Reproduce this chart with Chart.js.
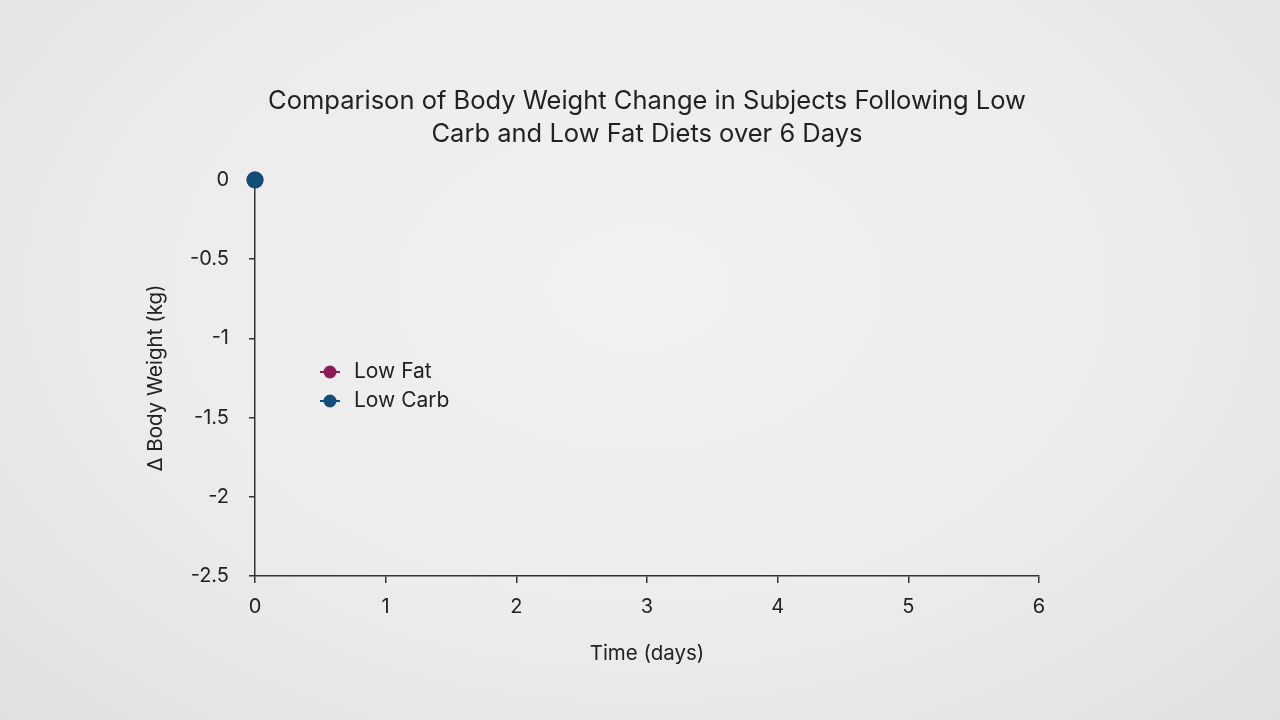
<!DOCTYPE html>
<html>
<head>
<meta charset="utf-8">
<script src="https://cdn.jsdelivr.net/npm/chart.js@4.4.0/dist/chart.umd.min.js"></script>
<style>
  html, body { margin: 0; padding: 0; }
  body {
    width: 1280px; height: 720px; overflow: hidden;
    background: radial-gradient(ellipse at 50% 40%, #f1f1f1 0%, #ececec 55%, #e0e0e0 100%);
  }
  #wrap { position: absolute; left: 0; top: 0; width: 1280px; height: 720px; }
</style>
</head>
<body>
<div id="wrap"><canvas id="myChart" width="1280" height="720"></canvas></div>
<script>
var seriesNames = ['Low Fat', 'Low Carb'];
var seriesColors = ['#8a1a58', '#124e78'];
var days = [0];
var lowFat = [0];
var lowCarb = [0];
var yTicks = [0, -0.5, -1, -1.5, -2, -2.5];
var xTicks = [0, 1, 2, 3, 4, 5, 6];

var fontFamily = 'Inter, "Open Sans", sans-serif';
var textColor = '#222';

function toPoints(xs, ys) {
    return xs.map(function(x, i) { return { x: x, y: ys[i] }; });
}

// legend with a short line through the marker, placed inside the plot
var lineLegend = {
    id: 'lineLegend',
    afterDraw: function(chart) {
        var ctx = chart.ctx;
        var a = chart.chartArea;
        var x0 = a.left + 65;
        var y0 = a.top + 192;
        ctx.save();
        ctx.font = '21px ' + fontFamily;
        ctx.textBaseline = 'middle';
        chart.data.datasets.forEach(function(ds, i) {
            var y = y0 + i * 29;
            ctx.strokeStyle = ds.borderColor;
            ctx.lineWidth = 2;
            ctx.beginPath();
            ctx.moveTo(x0, y);
            ctx.lineTo(x0 + 20, y);
            ctx.stroke();
            ctx.fillStyle = ds.backgroundColor;
            ctx.beginPath();
            ctx.arc(x0 + 10, y, 6.5, 0, Math.PI * 2);
            ctx.fill();
            ctx.fillStyle = textColor;
            ctx.fillText(ds.label, x0 + 34, y);
        });
        ctx.restore();
    }
};

var ctx = document.getElementById('myChart').getContext('2d');

var myChart = new Chart(ctx, {
    type: 'line',
    data: {
        datasets: [
            {
                label: seriesNames[0],
                data: toPoints(days, lowFat),
                borderColor: seriesColors[0],
                backgroundColor: seriesColors[0],
                pointRadius: 7.5,
                borderWidth: 2,
                order: 2,
                clip: false
            },
            {
                label: seriesNames[1],
                data: toPoints(days, lowCarb),
                borderColor: seriesColors[1],
                backgroundColor: seriesColors[1],
                pointRadius: 7.5,
                borderWidth: 2,
                order: 1,
                clip: false
            }
        ]
    },
    plugins: [lineLegend],
    options: {
        responsive: false,
        animation: false,
        layout: { padding: { left: 140, right: 241, top: 0, bottom: 50 } },
        plugins: {
            legend: { display: false },
            tooltip: { enabled: false },
            title: {
                display: true,
                fullSize: false,
                text: ['Comparison of Body Weight Change in Subjects Following Low', 'Carb and Low Fat Diets over 6 Days'],
                color: textColor,
                font: { family: fontFamily, size: 25.5, weight: 'normal', lineHeight: 1.294 },
                padding: { top: 85, bottom: 29 }
            }
        },
        scales: {
            x: {
                type: 'linear',
                min: 0,
                max: 6,
                afterFit: function(s) { s.height = 94; },
                afterBuildTicks: function(s) { s.ticks = xTicks.map(function(v) { return { value: v }; }); },
                grid: { display: true, drawOnChartArea: false, drawTicks: true, tickLength: 7, color: '#333', lineWidth: 1.5 },
                border: { display: true, color: '#333', width: 1.5 },
                ticks: { color: textColor, font: { family: fontFamily, size: 20 }, padding: 12, callback: function(v) { return String(v); } },
                title: { display: true, text: 'Time (days)', color: textColor, font: { family: fontFamily, size: 20.5 }, padding: 4 }
            },
            y: {
                type: 'linear',
                min: -2.5,
                max: 0,
                afterFit: function(s) { s.width = 115; },
                afterBuildTicks: function(s) { s.ticks = yTicks.map(function(v) { return { value: v }; }); },
                grid: { display: true, drawOnChartArea: false, drawTicks: true, tickLength: 6, color: '#333', lineWidth: 1.5 },
                border: { display: true, color: '#333', width: 1.5 },
                ticks: { color: textColor, font: { family: fontFamily, size: 20 }, padding: 20, callback: function(v) { return String(v); } },
                title: { display: true, text: 'Δ Body Weight (kg)', color: textColor, font: { family: fontFamily, size: 20.5 }, padding: 4 }
            }
        }
    }
});
</script>
</body>
</html>
